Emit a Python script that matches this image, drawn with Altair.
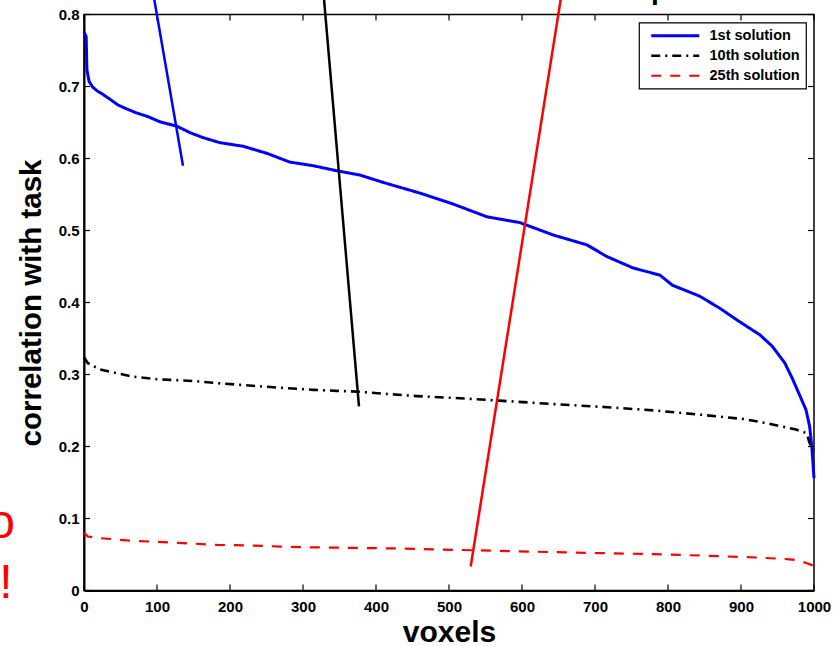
import altair as alt
import pandas as pd

# ---------------- data ----------------
series_names = ["1st solution", "10th solution", "25th solution"]
series_colors = ["#0000ff", "#000000", "#ff0000"]

first_x = [0, 3, 4, 7, 12, 18, 26, 36, 47, 56, 70, 88, 104, 127, 145, 163, 186, 218, 251, 282,
           314, 346, 378, 409, 460, 505, 552, 597, 642, 689, 716, 752, 789, 806, 843, 871, 894,
           926, 943, 960, 971, 980, 989, 994, 997, 1000]
first_y = [0.776, 0.769, 0.723, 0.707, 0.699, 0.694, 0.689, 0.682, 0.674, 0.670, 0.664, 0.658,
           0.651, 0.645, 0.636, 0.629, 0.622, 0.617, 0.607, 0.595, 0.590, 0.583, 0.577, 0.567,
           0.552, 0.537, 0.519, 0.511, 0.494, 0.480, 0.464, 0.448, 0.438, 0.424, 0.409, 0.392,
           0.376, 0.355, 0.339, 0.316, 0.293, 0.272, 0.251, 0.228, 0.200, 0.156]

tenth_x = [0, 5, 22, 40, 67, 100, 118, 149, 182, 214, 245, 278, 314, 346, 378, 415, 456, 515,
           574, 645, 717, 782, 846, 905, 939, 974, 990, 994, 1000]
tenth_y = [0.324, 0.316, 0.307, 0.303, 0.297, 0.2935, 0.2926, 0.291, 0.288, 0.2856, 0.2833,
           0.281, 0.2787, 0.2773, 0.276, 0.273, 0.270, 0.267, 0.2634, 0.2588, 0.2546, 0.250,
           0.244, 0.238, 0.2315, 0.224, 0.2185, 0.2047, 0.195]

twentyfifth_x = [0, 5, 22, 40, 59, 90, 136, 182, 227, 296, 364, 433, 505, 570, 642, 707, 779,
                 843, 922, 963, 980, 1000]
twentyfifth_y = [0.0806, 0.075, 0.0727, 0.0713, 0.0695, 0.068, 0.0658, 0.0634, 0.0625, 0.0602,
                 0.0593, 0.0583, 0.0565, 0.0551, 0.0533, 0.0519, 0.0505, 0.0486, 0.0458, 0.0436,
                 0.0417, 0.0343]

# slanted annotation strokes (start beyond the top of the picture)
ann_names = ["blue", "black", "red"]
ann_colors = ["#0000ff", "#000000", "#ff0000"]
ann_x_start = [93.0, 327.2, 656.0]
ann_y_start = [0.84, 0.84, 0.84]
ann_x_end = [135.6, 376.7, 529.7]
ann_y_end = [0.59, 0.2556, 0.0333]

# cropped annotation texts
red_text = ["o", "!"]
red_text_x = [-94.5, -97.9]
red_text_y = [0.0732, -0.0101]
top_text = ["p"]
top_text_x = [776.8]
top_text_y = [0.8219]

x_ticks = [0, 100, 200, 300, 400, 500, 600, 700, 800, 900, 1000]
y_ticks = [0, 0.1, 0.2, 0.3, 0.4, 0.5, 0.6, 0.7, 0.8]

# ---------------- tables ----------------
rows = []
for name, xs, ys in zip(series_names, [first_x, tenth_x, twentyfifth_x],
                        [first_y, tenth_y, twentyfifth_y]):
    for xv, yv in zip(xs, ys):
        rows.append({"voxel": xv, "corr": yv, "series": name})
df = pd.DataFrame(rows)

ann_rows = []
for n, c, x0, y0, x1, y1 in zip(ann_names, ann_colors, ann_x_start, ann_y_start, ann_x_end, ann_y_end):
    ann_rows.append({"voxel": x0, "corr": y0, "grp": n, "col": c})
    ann_rows.append({"voxel": x1, "corr": y1, "grp": n, "col": c})
ann_df = pd.DataFrame(ann_rows)

red_df = pd.DataFrame({"voxel": red_text_x, "corr": red_text_y, "txt": red_text})
top_df = pd.DataFrame({"voxel": top_text_x, "corr": top_text_y, "txt": top_text})
xt_df = pd.DataFrame({"voxel": x_ticks})
yt_df = pd.DataFrame({"corr": y_ticks})

# ---------------- layout ----------------
W, H = 730, 576
FONT = "Liberation Sans"
X0, X1, Y0, Y1 = 0, 1000, 0, 0.8
TICK_Y = 6 * (Y1 - Y0) / H      # 6 px inward tick, in data units
TICK_X = 6 * (X1 - X0) / W

xscale = alt.Scale(domain=[X0, X1], nice=False, zero=False)
yscale = alt.Scale(domain=[Y0, Y1], nice=False, zero=False)

x_main = alt.Axis(orient="bottom", values=x_ticks, ticks=False, domain=True, domainColor="black",
                  domainWidth=2, labelFont=FONT, labelFontSize=15, labelFontWeight="bold",
                  labelColor="black", labelPadding=9, labelFlush=False, labelOverlap=False,
                  labelExpr="format(datum.value, 'd')",
                  title="voxels", titleFont=FONT, titleFontSize=30, titleFontWeight="bold",
                  titleColor="black", titlePadding=3, grid=False)
y_main = alt.Axis(orient="left", values=y_ticks, ticks=False, domain=True, domainColor="black",
                  domainWidth=2, labelFont=FONT, labelFontSize=15, labelFontWeight="bold",
                  labelColor="black", labelPadding=5, labelFlush=False, labelOverlap=False,
                  labelExpr="datum.value == 0 ? '0' : format(datum.value, '.1f')",
                  title="correlation with task", titleFont=FONT, titleFontSize=29.5,
                  titleFontWeight="bold", titleColor="black", titlePadding=12, grid=False)

lines = alt.Chart(df).mark_line(strokeJoin="round").encode(
    x=alt.X("voxel:Q", scale=xscale, axis=x_main),
    y=alt.Y("corr:Q", scale=yscale, axis=y_main),
    color=alt.Color("series:N", scale=alt.Scale(domain=series_names, range=series_colors),
                    legend=alt.Legend(title=None)),
    strokeDash=alt.StrokeDash("series:N",
                              scale=alt.Scale(domain=series_names,
                                              range=[[1, 0], [9, 5, 2, 5], [10, 9]]),
                              legend=alt.Legend(title=None)),
    strokeWidth=alt.StrokeWidth("series:N",
                                scale=alt.Scale(domain=series_names, range=[3, 2.2, 2.5]),
                                legend=None),
)

ann = alt.Chart(ann_df).mark_line(strokeWidth=2.5).encode(
    x=alt.X("voxel:Q", scale=xscale, axis=None),
    y=alt.Y("corr:Q", scale=yscale, axis=None),
    detail="grp:N",
    color=alt.Color("col:N", scale=None),
)

# inward ticks on all four sides
tick_style = dict(color="black", strokeWidth=1.2)
xt_bottom = alt.Chart(xt_df).mark_rule(**tick_style).encode(
    x=alt.X("voxel:Q", scale=xscale, axis=None),
    y=alt.Y(datum=Y0, scale=yscale, axis=None), y2=alt.datum(Y0 + TICK_Y))
xt_top = alt.Chart(xt_df).mark_rule(**tick_style).encode(
    x=alt.X("voxel:Q", scale=xscale, axis=None),
    y=alt.Y(datum=Y1, scale=yscale, axis=None), y2=alt.datum(Y1 - TICK_Y))
yt_left = alt.Chart(yt_df).mark_rule(**tick_style).encode(
    y=alt.Y("corr:Q", scale=yscale, axis=None),
    x=alt.X(datum=X0, scale=xscale, axis=None), x2=alt.datum(X0 + TICK_X))
yt_right = alt.Chart(yt_df).mark_rule(**tick_style).encode(
    y=alt.Y("corr:Q", scale=yscale, axis=None),
    x=alt.X(datum=X1, scale=xscale, axis=None), x2=alt.datum(X1 - TICK_X))

red_txt = alt.Chart(red_df).mark_text(align="right", baseline="alphabetic", font=FONT,
                                      fontSize=48, color="#ff0000").encode(
    x=alt.X("voxel:Q", scale=xscale, axis=None),
    y=alt.Y("corr:Q", scale=yscale, axis=None),
    text="txt:N",
)

top_txt = alt.Chart(top_df).mark_text(align="left", baseline="alphabetic", font=FONT,
                                      fontSize=28, fontWeight="bold", color="black").encode(
    x=alt.X("voxel:Q", scale=xscale, axis=None),
    y=alt.Y("corr:Q", scale=yscale, axis=None),
    text="txt:N",
)

chart = alt.layer(lines, xt_bottom, xt_top, yt_left, yt_right, ann, red_txt, top_txt).resolve_axis(
    x="independent", y="independent"
).properties(
    width=W, height=H,
    autosize=alt.AutoSizeParams(type="none"),
    padding={"left": 84, "top": 14.5, "right": 25, "bottom": 55.5},
    background="white",
).configure_view(
    stroke="black", strokeWidth=1.5
).configure_legend(
    orient="top-right", offset=8, strokeColor="black", strokeWidth=1.2, fillColor="white",
    padding=6, cornerRadius=0, labelFont=FONT, labelFontSize=14.5, labelFontWeight="bold",
    labelColor="black", symbolType="M-4.8,0H4.8", symbolSize=100, symbolStrokeWidth=3,
    symbolOffset=23, labelOffset=27, rowPadding=5, symbolFillColor="transparent",
)

chart.save("out.html", embed_options={"renderer": "svg", "actions": False})
